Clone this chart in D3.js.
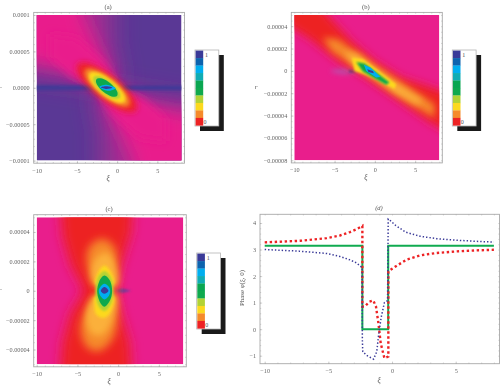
<!DOCTYPE html>
<html>
<head>
<meta charset="utf-8">
<script src="https://cdn.jsdelivr.net/npm/d3@7"></script>
<style>
html, body { margin: 0; padding: 0; background: #fff; }
svg { display: block; }
text { font-family: "Liberation Serif", serif; fill: #555; }
</style>
</head>
<body>
<div id="chart"></div>
<script>
// colour levels, legend order top (1) to bottom (0)
var legendColors = ['#3a3a98', '#0d63ae', '#00aeef', '#10acb4', '#0aa651', '#0fa94e', '#b2d235', '#fcd91e', '#f58a2b', '#ed2224']
var bgPink = '#e91e8c'
var bgPurple = '#5a3895'
var midMagenta = '#a02f92'
var amber = '#fbb03b'

// tick labels
var ticksXi = [-10, -5, 0, 5]
var ticksA = [10, 5, 0, -5, -10]
var labelsA = ['0.0001', '0.00005', '0.0000', '\u22120.00005', '\u22120.0001']
var ticksB = [4, 2, 0, -2, -4, -6, -8]
var labelsB = ['0.00004', '0.00002', '0', '\u22120.00002', '\u22120.00004', '\u22120.00006', '\u22120.00008']
var ticksC = [4, 2, 0, -2, -4]
var labelsC = ['0.00004', '0.00002', '0', '\u22120.00002', '\u22120.00004']
var ticksPhase = [4, 3, 2, 1, 0, -1]

// level outlines, [xi, r in units of 1e-5]
var aBroadUL = [[-25, 25], [0, 25], [-0.6, 10], [-0.6, 6], [0, 2.6], [0.3, 0.28], [-2.19, 0.28], [-6.5, 1.1], [-11.3, 1.9], [-25, 2.5]]
var aBroadLR = [[-2.6, -25], [-2, -10], [-2, -6], [-2.6, -2.6], [-2.9, -0.28], [-0.12, -0.28], [4.2, -1.1], [9, -1.9], [25, -2.5], [25, -25]]
var aCoreUL = [[-25, 25], [-4.4, 25], [-4.2, 10], [-2.6, 6], [-0.5, 1], [-2.2, 0.28], [-6, 2.5], [-11.3, 3.6], [-25, 5]]
var aCoreLR = [[25, -25], [2.1, -25], [1.9, -10], [0.3, -6], [-1.8, -1], [-0.1, -0.28], [3.7, -2.5], [9, -3.6], [25, -5]]
var aInnerUL = [[-8.4, 7.4], [-5.1, 6.9], [-1.78, 3.7], [0.08, 0.73], [-2.19, 0.14], [-5.5, 1.42], [-8.4, 4.17]]
var aInnerLR = [[6.08, -7.4], [2.78, -6.9], [-0.54, -3.7], [-2.4, -0.73], [-0.13, -0.14], [3.18, -1.42], [6.08, -4.17]]
var aBand = [[-25, 0.3], [-3, 0.34], [-1.2, 0], [1, 0.3], [25, 0.26], [25, -0.26], [1, -0.3], [-1.2, 0], [-3, -0.34], [-25, -0.3]]
var aRed = [[2.32, -3.12], [1.95, -1.28], [-0.37, 1.33], [-3.19, 3.21], [-4.89, 3.21], [-4.51, 1.38], [-2.19, -1.24], [0.62, -3.12]]
var aOrange = [[1.49, -2.39], [1.24, -0.92], [-0.46, 1.1], [-2.65, 2.48], [-3.97, 2.48], [-3.73, 1.01], [-2.03, -1.01], [0.17, -2.39]]
var aYellow = [[0.95, -1.88], [0.75, -0.69], [-0.6, 0.94], [-2.34, 2.06], [-3.44, 1.97], [-3.25, 0.78], [-1.88, -0.85], [-0.14, -1.97]]
var aLime = [[0.33, -1.38], [0.22, -0.46], [-0.78, 0.76], [-2.07, 1.56], [-2.91, 1.47], [-2.8, 0.55], [-1.8, -0.67], [-0.5, -1.47]]
var aGreen = [[0, -1.1], [-0.06, -0.37], [-0.85, 0.64], [-1.88, 1.28], [-2.57, 1.19], [-2.51, 0.46], [-1.72, -0.55], [-0.68, -1.19]]
var aCyan = [[-2.2, 0.1], [-1.3, 0.42], [-0.2, -0.05], [-1.2, -0.42]]
var aBlue = [[-2, 0.05], [-1.3, 0.2], [-0.6, 0], [-1.3, -0.15]]

var bRed = [[-25, 13], [-13, 13], [-7.07, 5.95], [-2.93, 2.68], [-0.04, 0.89], [3.26, -0.6], [9.46, -2.08], [25, -5], [25, -11], [9.46, -5.65], [6.57, -4.46], [2.44, -2.38], [-1.69, -0.3], [-4.59, 0.89], [-8.31, 2.98], [-13, 5], [-25, 9]]
var bOrange = [[-6.45, 2.98], [-4.59, 2.83], [-2.31, 1.64], [-0.04, 0.45], [3.26, -1.04], [7.4, -2.98], [7.4, -4.17], [4.09, -2.83], [0.79, -1.19], [-2.93, 0.6], [-5.41, 1.79]]
var bAmber = [[-3.76, 1.73], [-2.11, 1.49], [-0.04, 0.3], [2.44, -1.04], [5.95, -2.68], [5.33, -2.98], [2.44, -1.93], [-0.04, -0.6], [-2.73, 0.6]]
var bYellow = [[-2.85, 1.19], [-1.49, 1.04], [0.17, 0.15], [2.64, -1.19], [2.44, -1.61], [0.58, -0.89], [-1.28, -0.3], [-2.52, 0]]
var bGreen = [[-2.31, 0.8], [-1.28, 0.65], [-0.04, 0], [1.82, -1.04], [1.4, -1.25], [-0.04, -0.65], [-1.49, -0.06]]
var bCyan = [[-1.36, 0.54], [-0.54, 0.3], [0.7, -0.54], [0.17, -0.6], [-1.07, 0]]
var bBlue = [[-0.95, 0.15], [-0.25, 0], [-0.12, -0.21], [-0.79, -0.09]]
var bTail = [[-5.41, 0.06], [-3.76, 0.24], [-2.27, 0.06], [-2.27, -0.18], [-3.76, -0.3], [-5.41, -0.09]]
var bTailCore = [[-3.2, 0.15], [-2.3, 0.1], [-2.3, -0.15], [-3.2, -0.2]]

var cRed = [[-8, 12], [2.3, 12], [1.6, 4], [0.3, 1.7], [-0.25, 0.2], [-0.25, -0.18], [0.3, -1.5], [1.4, -3.5], [2.3, -12], [-8, -12], [-6.8, -3.5], [-5.8, -1.5], [-4.4, -0.25], [-4.4, 0.25], [-5.8, 1.7], [-6.8, 3.7]]
var cOrangeUp = [[-1.68, 3.5], [-0.4, 2.9], [-0.1, 1.6], [-0.3, 0.3], [-2.7, 0.3], [-3.7, 1.5], [-3.8, 2.6], [-3, 3.3]]
var cOrangeLow = [[-1.68, -0.25], [-0.3, -0.3], [-0.1, -2], [-0.7, -3.3], [-2.3, -4.1], [-3.9, -3.8], [-4.6, -2.6], [-3.9, -1.3], [-2.7, -0.3]]
var cAmberUp = [[-1.68, 2.6], [-0.57, 2], [-0.25, 0.43], [-2.91, 0.43], [-3.11, 1.8]]
var cAmberLow = [[-2.91, -0.36], [-0.33, -0.36], [-0.74, -1.95], [-1.89, -2.97], [-3.32, -2.86], [-3.93, -1.72]]
var cYellowUp = [[-1.68, 1.72], [-0.86, 1.22], [-0.57, 0.43], [-2.7, 0.43], [-2.46, 1.22]]
var cYellowLow = [[-2.7, -0.36], [-0.57, -0.36], [-0.86, -1.38], [-1.68, -1.84], [-2.7, -1.61], [-2.91, -0.93]]
var cLime = [[-1.68, 1.34], [-0.86, 0.88], [-0.57, -0.02], [-0.86, -0.86], [-1.68, -1.38], [-2.5, -0.93], [-2.79, -0.02], [-2.5, 0.88]]
var cGreen = [[-1.68, 1.04], [-0.98, 0.66], [-0.74, -0.02], [-0.98, -0.63], [-1.68, -1.09], [-2.3, -0.7], [-2.58, -0.02], [-2.3, 0.66]]
var cCyan = [[-1.68, 0.48], [-1.15, 0.27], [-0.98, -0.02], [-1.15, -0.36], [-1.68, -0.59], [-2.17, -0.36], [-2.38, -0.02], [-2.17, 0.27]]
var cBlue = [[-1.68, 0.25], [-1.19, 0], [-1.68, -0.2], [-2.13, 0]]
var cTail = [[-0.25, 0.09], [0.5, 0.15], [1.6, 0], [0.5, -0.15], [-0.25, -0.09]]

// panel (d) phase curves
var phaseGreen = [[-10, 3.14], [-2.33, 3.14], [-2.33, 0], [-0.3, 0], [-0.3, 3.14], [8, 3.14]]
var phaseRed = [[-10, 3.27], [-7.2, 3.33], [-5.13, 3.43], [-4.08, 3.53], [-3.3, 3.66], [-2.77, 3.77], [-2.33, 3.89], [-2.33, 0.85], [-2.12, 0.86], [-1.8, 1.03], [-1.47, 1.08], [-1.26, 0.85], [-1.07, 0.23], [-0.89, -0.53], [-0.6, -1.09], [-0.29, -1.03], [-0.29, 2.18], [0.37, 2.39], [1.15, 2.62], [2.2, 2.78], [3.5, 2.87], [5.1, 2.93], [6.65, 2.97], [8, 2.99]]
var phaseBlue = [[-10, 3], [-7.3, 2.94], [-5.1, 2.85], [-4.1, 2.74], [-3.3, 2.61], [-2.8, 2.5], [-2.35, 2.32], [-2.33, -0.4], [-2.3, -0.85], [-1.95, -1], [-1.45, -1.13], [-1.2, -0.85], [-1.05, -0.2], [-0.85, 0.45], [-0.6, 1], [-0.35, 1.08], [-0.3, 4.15], [-0.2, 4.12], [0.3, 3.9], [1.1, 3.65], [2.2, 3.5], [3.5, 3.41], [5.1, 3.35], [6.6, 3.31], [8, 3.28]]

var svg = d3.select('#chart').append('svg').attr('width', 500).attr('height', 386)
var defs = svg.append('defs')

var filterIds = {}
function blurFilter (sd) {
  var id = 'blur' + String(sd).replace('.', '_')
  if (!filterIds[id]) {
    filterIds[id] = true
    var f = defs.append('filter').attr('id', id)
      .attr('filterUnits', 'userSpaceOnUse')
      .attr('x', -100).attr('y', -100).attr('width', 700).attr('height', 600)
    f.append('feGaussianBlur').attr('stdDeviation', sd)
  }
  return 'url(#' + id + ')'
}

function minorTicks (lo, hi, step) {
  return d3.range(lo, hi + step / 2, step)
}

function frameAndAxes (g, x, y, box, opts) {
  g.append('rect')
    .attr('x', box.left).attr('y', box.top)
    .attr('width', box.right - box.left).attr('height', box.bottom - box.top)
    .attr('fill', 'none').attr('stroke', '#a9a9a9').attr('stroke-width', 0.9)

  function style (ax) {
    ax.select('.domain').remove()
    ax.selectAll('line').attr('stroke', '#999').attr('stroke-width', 0.4)
    ax.selectAll('text').attr('font-size', 6.2)
      .style('font-family', '"Liberation Serif", serif').style('fill', '#666')
      .attr('filter', blurFilter(0.25))
  }

  // bottom and left carry labels, top and right only the marks
  g.append('g').attr('transform', 'translate(0,' + box.bottom + ')')
    .call(d3.axisBottom(x).tickValues(opts.xMinor).tickSize(-1.2).tickFormat('')).call(style)
  g.append('g').attr('transform', 'translate(0,' + box.bottom + ')')
    .call(d3.axisBottom(x).tickValues(opts.xTicks).tickSize(-2.2).tickPadding(5).tickFormat(function (d) { return d < 0 ? '\u2212' + (-d) : d })).call(style)
  g.append('g').attr('transform', 'translate(0,' + box.top + ')')
    .call(d3.axisTop(x).tickValues(opts.xMinor).tickSize(-1.2).tickFormat('')).call(style)
  g.append('g').attr('transform', 'translate(' + box.left + ',0)')
    .call(d3.axisLeft(y).tickValues(opts.yMinor).tickSize(-1.2).tickFormat('')).call(style)
  g.append('g').attr('transform', 'translate(' + box.left + ',0)')
    .call(d3.axisLeft(y).tickValues(opts.yTicks).tickSize(-2.2).tickPadding(4).tickFormat(function (d, i) { return opts.yLabels[i] })).call(style)
  g.append('g').attr('transform', 'translate(' + box.right + ',0)')
    .call(d3.axisRight(y).tickValues(opts.yMinor).tickSize(-1.2).tickFormat('')).call(style)
}

function caption (str, cx, cy, size, italic) {
  return svg.append('text').attr('x', cx).attr('y', cy)
    .attr('text-anchor', 'middle').attr('font-size', size)
    .attr('font-style', italic ? 'italic' : 'normal')
    .attr('filter', blurFilter(0.25))
    .text(str)
}

function drawLegend (left, top) {
  var w = 23.8
  var h = 76
  // black offset shadow of the white box
  svg.append('rect').attr('x', left + 5).attr('y', top + 5).attr('width', w).attr('height', h).attr('fill', '#1a1a1a')
  svg.append('rect').attr('x', left).attr('y', top).attr('width', w).attr('height', h)
    .attr('fill', '#fff').attr('stroke', '#b5b5b5').attr('stroke-width', 0.8)
  var band = d3.scaleBand().domain(d3.range(legendColors.length)).range([top + 0.6, top + h - 0.6])
  svg.append('g').selectAll('rect').data(legendColors).enter().append('rect')
    .attr('x', left + 0.6).attr('y', function (d, i) { return band(i) })
    .attr('width', 7.6).attr('height', band.bandwidth() + 0.2)
    .attr('fill', function (d) { return d })
  svg.append('text').attr('x', left + 10).attr('y', band(0) + 6).attr('font-size', 6).text('1')
  svg.append('text').attr('x', left + 8.5).attr('y', band(9) + 6).attr('font-size', 6).text('0')
}

function drawMap (opts) {
  var x = d3.scaleLinear().domain([-10, 8]).range(opts.xRange)
  var y = d3.scaleLinear().domain(opts.yDomain).range(opts.yRange)
  var clipId = 'clip' + opts.id
  defs.append('clipPath').attr('id', clipId).append('rect')
    .attr('x', opts.xRange[0]).attr('y', opts.yRange[0])
    .attr('width', opts.xRange[1] - opts.xRange[0]).attr('height', opts.yRange[1] - opts.yRange[0])

  var map = svg.append('g').attr('clip-path', 'url(#' + clipId + ')')
  map.append('rect')
    .attr('x', opts.xRange[0]).attr('y', opts.yRange[0])
    .attr('width', opts.xRange[1] - opts.xRange[0]).attr('height', opts.yRange[1] - opts.yRange[0])
    .attr('fill', opts.background)

  var line = d3.line().x(function (d) { return x(d[0]) }).y(function (d) { return y(d[1]) })
  opts.layers.forEach(function (l) {
    map.append('path')
      .attr('d', line.curve(l.smooth ? d3.curveCardinalClosed : d3.curveLinearClosed)(l.pts))
      .attr('fill', l.color)
      .attr('opacity', l.opacity === undefined ? 1 : l.opacity)
      .attr('filter', blurFilter(l.blur))
  })

  var box = { left: opts.xRange[0] - 3, right: opts.xRange[1] + 3, top: opts.yRange[0] - 2.6, bottom: opts.yRange[1] + 2.6 }
  frameAndAxes(svg.append('g'), x, y, box, {
    xTicks: ticksXi,
    xMinor: minorTicks(-10, 8, 1),
    yTicks: opts.yTicks,
    yLabels: opts.yLabels,
    yMinor: minorTicks(opts.yDomain[1], opts.yDomain[0], opts.yMinorStep)
  })
  caption(opts.title, (opts.xRange[0] + opts.xRange[1]) / 2 - 1, opts.yRange[0] - 6, 6.5)
  caption('\u03be', x(0) - 9, opts.yRange[1] + 20, 7.5, true)
  drawLegend(opts.legend[0], opts.legend[1])
}

var RED = legendColors[9]; var ORANGE = legendColors[8]; var YELLOW = legendColors[7]
var LIME = legendColors[6]; var GREEN = legendColors[5]; var CYAN = legendColors[2]; var BLUE = legendColors[0]

drawMap({
  id: 'a', title: '(a)', background: bgPurple,
  xRange: [36.7, 181.5], yRange: [15, 160.6], yDomain: [10, -10],
  yTicks: ticksA, yLabels: labelsA, yMinorStep: 1, legend: [195, 50],
  layers: [
    { pts: aBroadUL, color: midMagenta, blur: 12 },
    { pts: aBroadLR, color: midMagenta, blur: 12 },
    { pts: aCoreUL, color: bgPink, blur: 9 },
    { pts: aCoreLR, color: bgPink, blur: 9 },
    { pts: aInnerUL, color: bgPink, blur: 4 },
    { pts: aInnerLR, color: bgPink, blur: 4 },
    { pts: aBand, color: BLUE, blur: 1.4, opacity: 0.9 },
    { pts: aRed, color: RED, blur: 3, smooth: true },
    { pts: aOrange, color: ORANGE, blur: 2, smooth: true },
    { pts: aYellow, color: YELLOW, blur: 1.4, smooth: true },
    { pts: aLime, color: LIME, blur: 0.8, smooth: true },
    { pts: aGreen, color: GREEN, blur: 0.6, smooth: true },
    { pts: aCyan, color: CYAN, blur: 0.5, smooth: true },
    { pts: aBlue, color: BLUE, blur: 0.4, smooth: true }
  ]
})

drawMap({
  id: 'b', title: '(b)', background: bgPink,
  xRange: [294.3, 439.3], yRange: [15, 160.3], yDomain: [5, -8],
  yTicks: ticksB, yLabels: labelsB, yMinorStep: 0.5, legend: [452.3, 50],
  layers: [
    { pts: bTail, color: '#a06ac0', blur: 2.5, opacity: 0.7 },
    { pts: bTailCore, color: '#5a3895', blur: 1.2 },
    { pts: bRed, color: RED, blur: 5 },
    { pts: bOrange, color: ORANGE, blur: 3.5 },
    { pts: bAmber, color: amber, blur: 3 },
    { pts: bYellow, color: YELLOW, blur: 1.3 },
    { pts: bGreen, color: GREEN, blur: 0.9 },
    { pts: bCyan, color: CYAN, blur: 0.6 },
    { pts: bBlue, color: BLUE, blur: 0.4 }
  ]
})

drawMap({
  id: 'c', title: '(c)', background: bgPink,
  xRange: [36.7, 183.3], yRange: [217.3, 364.2], yDomain: [5, -5],
  yTicks: ticksC, yLabels: labelsC, yMinorStep: 0.5, legend: [196.7, 253],
  layers: [
    { pts: cTail, color: '#6a40a0', blur: 1.2 },
    { pts: cRed, color: RED, blur: 6 },
    { pts: cOrangeUp, color: ORANGE, blur: 4, smooth: true },
    { pts: cOrangeLow, color: ORANGE, blur: 4, smooth: true },
    { pts: cAmberUp, color: amber, blur: 3, smooth: true },
    { pts: cAmberLow, color: amber, blur: 3, smooth: true },
    { pts: cYellowUp, color: YELLOW, blur: 1.5, smooth: true },
    { pts: cYellowLow, color: YELLOW, blur: 1.5, smooth: true },
    { pts: cLime, color: LIME, blur: 0.9, smooth: true },
    { pts: cGreen, color: GREEN, blur: 0.7, smooth: true },
    { pts: cCyan, color: CYAN, blur: 0.5, smooth: true },
    { pts: cBlue, color: BLUE, blur: 0.4, smooth: true }
  ]
})

// axis letters on the left of the maps
caption('r', 256, 89, 7, true)
caption('r', 0, 90, 7, true)
caption('r', 0, 292, 7, true)

// panel (d)
var xd = d3.scaleLinear().domain([-10, 8]).range([264.7, 493.9])
var yd = d3.scaleLinear().domain([4, -1]).range([223, 355.7])
var lineD = d3.line().x(function (d) { return xd(d[0]) }).y(function (d) { return yd(d[1]) })
svg.append('path').attr('d', lineD(phaseGreen)).attr('fill', 'none').attr('stroke', '#10ab50').attr('stroke-width', 2)
svg.append('path').attr('d', lineD(phaseRed)).attr('fill', 'none').attr('stroke', '#ed2224').attr('stroke-width', 2.4).attr('stroke-dasharray', '2.4 2.6')
svg.append('path').attr('d', lineD(phaseBlue)).attr('fill', 'none').attr('stroke', '#3a3a98').attr('stroke-width', 1.5).attr('stroke-dasharray', '1.4 2')
frameAndAxes(svg.append('g'), xd, yd, { left: 260, right: 499.5, top: 214.3, bottom: 363.7 }, {
  xTicks: ticksXi,
  xMinor: minorTicks(-10, 8, 1),
  yTicks: ticksPhase,
  yLabels: ticksPhase.map(function (d) { return d < 0 ? '\u2212' + (-d) : d }),
  yMinor: minorTicks(-1, 4, 0.2)
})
caption('(d)', 379, 210, 6.5, true)
caption('\u03be', 379, 383, 7.5, true)
svg.append('text').attr('transform', 'translate(244,288) rotate(-90)')
  .attr('text-anchor', 'middle').attr('font-size', 6.8)
  .attr('filter', blurFilter(0.25))
  .text('Phase \u03c6(\u03be, 0)')
</script>
</body>
</html>
